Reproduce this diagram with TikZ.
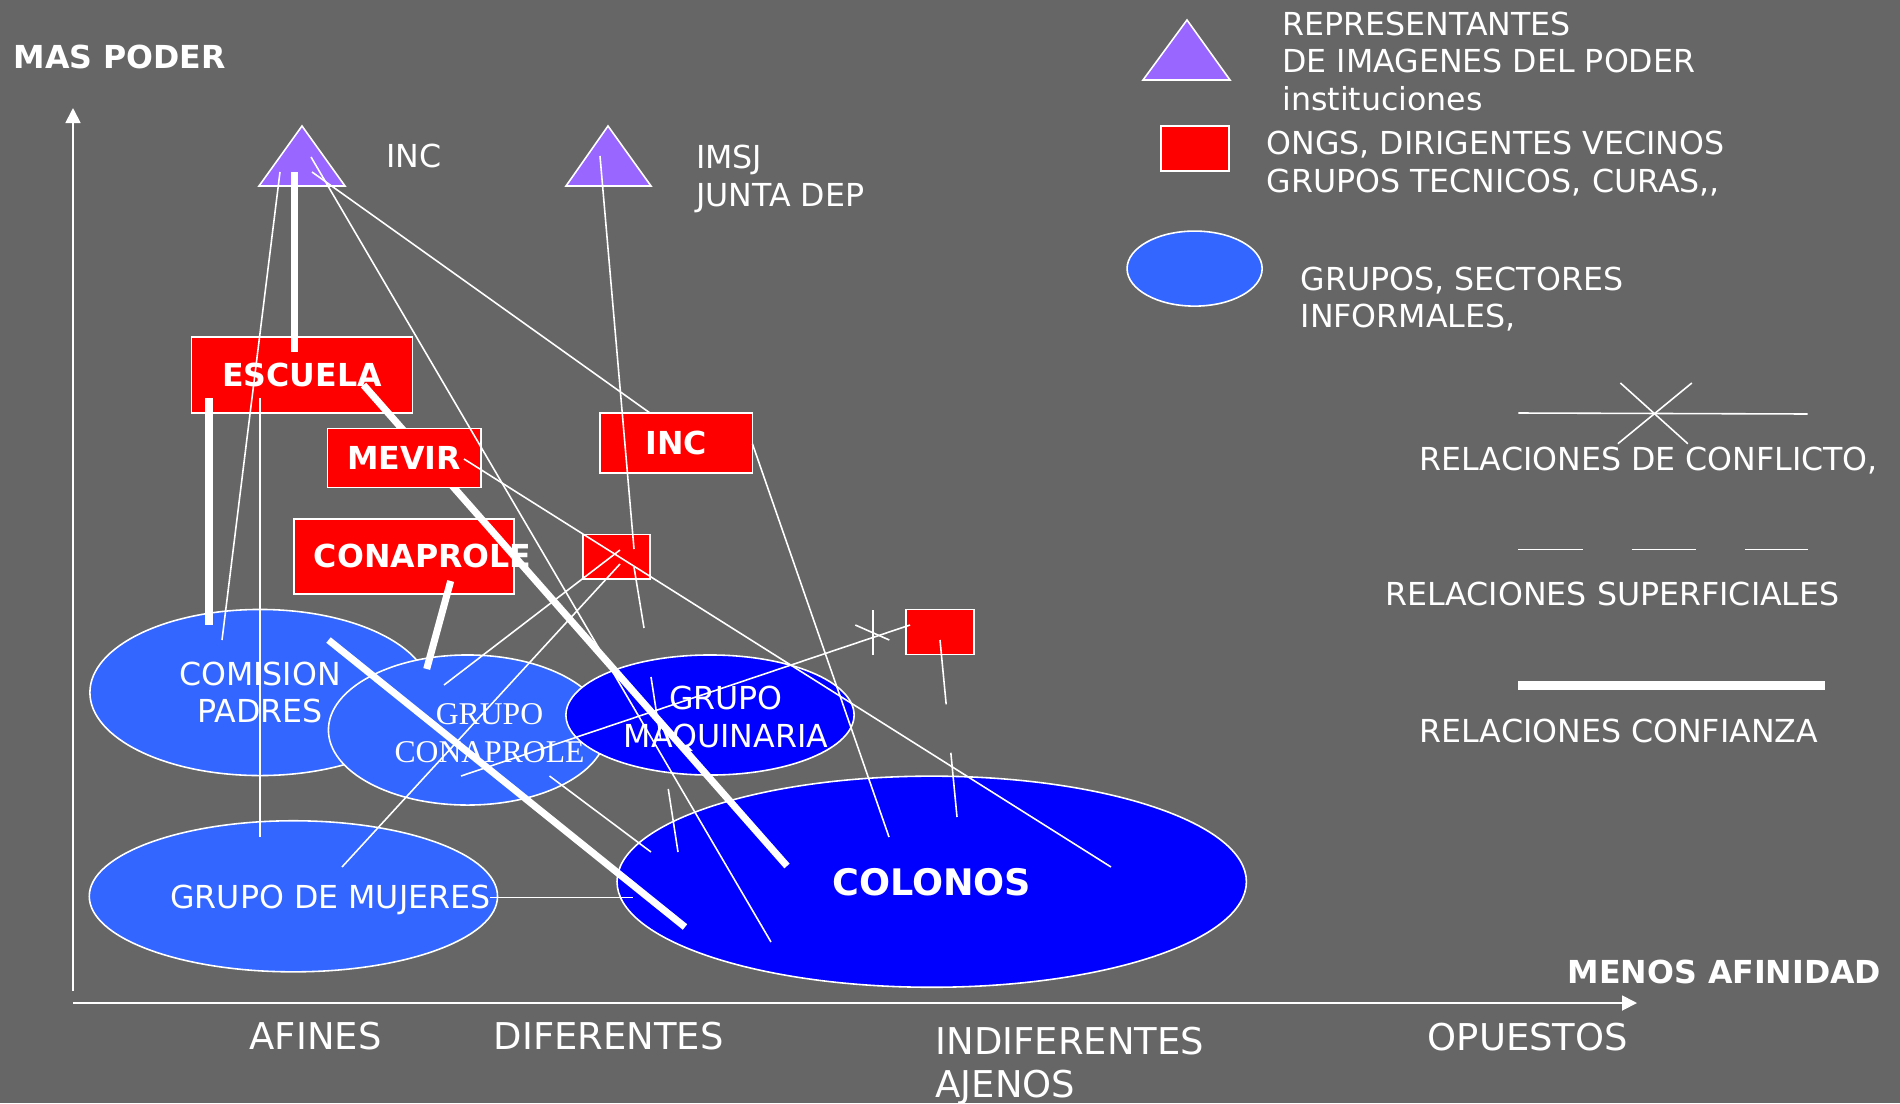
\documentclass[tikz,border=0pt]{standalone}
\usepackage{fontspec}
\setmainfont{DejaVu Sans}
\newfontfamily\grpserif{Liberation Serif}
\usetikzlibrary{shapes.geometric,arrows.meta}

\definecolor{bgGray}{HTML}{666666}
\definecolor{instViolet}{HTML}{9966FF}
\definecolor{grpBlue}{HTML}{3366FF}
\definecolor{colBlue}{HTML}{0000FF}

\begin{document}
\begin{tikzpicture}[x=0.01cm, y=-0.01cm,
   inst/.style={draw=white, fill=instViolet, line width=0.45pt},
   ong/.style={draw=white, fill=red, line width=0.45pt, inner sep=0pt, text=white,
               font=\fontsize{9}{10.7}\selectfont\bfseries},
   ongtxt/.style={text=white, inner sep=0pt, font=\fontsize{9}{10.7}\selectfont\bfseries},
   grp/.style={ellipse, draw=white, fill=grpBlue, line width=0.45pt, inner sep=0pt,
               text=white, align=center, font=\fontsize{9}{10.7}\selectfont},
   grptxt/.style={text=white, inner sep=0pt, align=center, font=\fontsize{9}{10.7}\selectfont},
   txt/.style={text=white, inner sep=0pt, align=left, font=\fontsize{9}{10.7}\selectfont},
   axtxt/.style={text=white, inner sep=0pt, align=left, font=\fontsize{10.5}{12.2}\selectfont},
   rel/.style={draw=white, line width=0.45pt},
   trust/.style={draw=white, line width=2pt},
   shallow/.style={rel, dash pattern=on 0.646cm off 0.486cm},
   axis/.style={draw=white, line width=0.5pt, -{Triangle[length=0.15cm,width=0.15cm]}}]

\fill[bgGray] (0,0) rectangle (1900,1103);
\useasboundingbox (0,0) rectangle (1900,1103);

% ejes
\coordinate (yBot) at (73,991);
\coordinate (yTop) at (73,108);
\coordinate (xLeft) at (73,1003);
\coordinate (xRight) at (1637,1003);
\draw[axis] (yBot) -- (yTop);
\draw[axis] (xLeft) -- (xRight);

\node[txt, font=\fontsize{9}{10.7}\selectfont\bfseries, anchor=west] (masPoder) at (13,57) {MAS PODER};
\node[txt, font=\fontsize{9}{10.7}\selectfont\bfseries, anchor=west] (menosAfin) at (1567,972) {MENOS AFINIDAD};
\node[axtxt, anchor=west] (afines) at (249,1036) {AFINES};
\node[axtxt, anchor=west] (diferentes) at (493,1036) {DIFERENTES};
\node[axtxt, anchor=north west] (indiferentes) at (935,1026.5) {INDIFERENTES\\AJENOS};
\node[axtxt, anchor=west] (opuestos) at (1427,1036.7) {OPUESTOS};

% grupos
\node[grp, minimum width=3.40cm, minimum height=1.66cm] (comision) at (260,692.5) {COMISION\\PADRES};
\node[grp, minimum width=2.78cm, minimum height=1.50cm,
      label={[grptxt, font=\grpserif\fontsize{9}{10.7}\selectfont, xshift=0.22cm, yshift=-0.03cm]center:{GRUPO\\CONAPROLE}}]
      (gconaprole) at (467.5,730) {};
\node[grp, fill=colBlue, minimum width=2.88cm, minimum height=1.20cm,
      label={[grptxt, xshift=0.16cm, yshift=-0.04cm]center:{GRUPO\\MAQUINARIA}}]
      (maquinaria) at (710,715) {};
\node[grp, minimum width=4.08cm, minimum height=1.51cm,
      label={[grptxt, xshift=0.37cm, yshift=-0.04cm]center:GRUPO DE MUJERES}]
      (mujeres) at (293.4,896.3) {};
\node[grp, fill=colBlue, minimum width=6.29cm, minimum height=2.11cm,
      font=\fontsize{10.4}{12}\selectfont\bfseries] (colonos) at (931.7,881.7) {COLONOS};

% instituciones
\filldraw[inst] (302,126) -- (345,186) -- (259,186) -- cycle;
\filldraw[inst] (608,126) -- (651,186) -- (566,186) -- cycle;
\node[txt, anchor=west] (incLbl) at (385.7,155.7) {INC};
\node[txt, anchor=north west] (imsjLbl) at (695.5,144.2) {IMSJ\\JUNTA DEP};

% ongs
\node[ong, minimum width=2.21cm, minimum height=0.76cm] (escuela) at (302,375) {ESCUELA};
\node[ong, minimum width=2.20cm, minimum height=0.75cm,
      label={[ongtxt, xshift=0.186cm]center:CONAPROLE}] (conaprole) at (404,556.4) {};
\node[ong, minimum width=1.525cm, minimum height=0.60cm] (incBox) at (676.2,443) {INC};
\node[ong, minimum width=0.67cm, minimum height=0.44cm] (boxA) at (616.7,556.7) {};
\node[ong, minimum width=0.68cm, minimum height=0.45cm] (boxB) at (940,632) {};

\coordinate (incT1) at (280,172);
\coordinate (incT2) at (311,157);
\coordinate (incT3) at (312,172);
\coordinate (incT4) at (294.5,172);
\coordinate (imsjT1) at (600,156);
\coordinate (esc1) at (294.5,352);
\coordinate (esc2) at (209,398);
\coordinate (esc3) at (260,398);
\coordinate (esc4) at (363.5,385);
\coordinate (mev1) at (464,459);
\coordinate (incB1) at (650,413);
\coordinate (incB2) at (752.5,444);
\coordinate (con1) at (450.7,581);
\coordinate (boxA1) at (634,549);
\coordinate (boxA2) at (634,567);
\coordinate (boxA3) at (620,550);
\coordinate (boxA4) at (620,564);
\coordinate (boxB1) at (910,625);
\coordinate (boxB2) at (940,640);
\coordinate (imsjEnd) at (644,628);
\coordinate (com1) at (222,640);
\coordinate (com2) at (209,625);
\coordinate (com3) at (328.5,640);
\coordinate (gcon1) at (426.7,669);
\coordinate (gcon2) at (444,685);
\coordinate (gcon3) at (461,776);
\coordinate (gcon4) at (549.5,776);
\coordinate (maq1) at (651,677);
\coordinate (muj1) at (260,837);
\coordinate (muj2) at (342,867);
\coordinate (muj3) at (490,897.3);
\coordinate (col1) at (771,942);
\coordinate (col2) at (787,866);
\coordinate (col3) at (685,927);
\coordinate (col4) at (1111,867);
\coordinate (col5) at (889,837);
\coordinate (col6) at (957,817);
\coordinate (col7) at (678,852);
\coordinate (col8) at (651,852);
\coordinate (col9) at (633.3,897.3);
\coordinate (cross1) at (872.7,610);
\coordinate (cross2) at (872.7,655);
\coordinate (cross3) at (855.3,625);
\coordinate (cross4) at (889.3,640);

\draw[trust] (esc4) -- (col2);
\node[ong, minimum width=1.53cm, minimum height=0.59cm] (mevir) at (404.2,457.9) {MEVIR};

% relaciones
\draw[trust] (incT4) -- (esc1);
\draw[trust] (esc2) -- (com2);
\draw[trust] (con1) -- (gcon1);
\draw[trust] (com3) -- (col3);
\draw[rel] (incT1) -- (com1);
\draw[rel] (incT2) -- (col1);
\draw[rel] (incT3) -- (incB1);
\draw[rel] (imsjT1) -- (boxA1);
\draw[rel] (boxA2) -- (imsjEnd);
\draw[rel] (esc3) -- (muj1);
\draw[rel] (mev1) -- (col4);
\draw[rel] (incB2) -- (col5);
\draw[rel] (boxA3) -- (gcon2);
\draw[rel] (boxA4) -- (muj2);
\draw[rel] (gcon3) -- (boxB1);
\draw[rel] (cross1) -- (cross2);
\draw[rel] (cross3) -- (cross4);
\draw[shallow] (boxB2) -- (col6);
\draw[shallow] (maq1) -- (col7);
\draw[rel] (gcon4) -- (col8);
\draw[rel] (muj3) -- (col9);

% leyenda
\filldraw[inst] (1187,20) -- (1230,80) -- (1143,80) -- cycle;
\node[txt, anchor=north west] (legInst) at (1281.6,10.9) {REPRESENTANTES\\DE IMAGENES DEL PODER\\instituciones};
\node[ong, minimum width=0.68cm, minimum height=0.45cm] (legOng) at (1195.2,148.3) {};
\node[txt, anchor=north west] (legOngTxt) at (1265.8,130.3) {ONGS, DIRIGENTES VECINOS\\GRUPOS TECNICOS, CURAS,{},};
\node[grp, minimum width=1.35cm, minimum height=0.75cm] (legGrp) at (1194.6,268.6) {};
\node[txt, anchor=north west] (legGrpTxt) at (1300,266.1) {GRUPOS, SECTORES\\INFORMALES,};

\coordinate (lc1) at (1518.4,413);
\coordinate (lc2) at (1807.6,414);
\coordinate (lc3) at (1620.4,383);
\coordinate (lc4) at (1687.8,443.7);
\coordinate (lc5) at (1691.8,383);
\coordinate (lc6) at (1617.9,443.7);
\draw[rel] (lc1) -- (lc2);
\draw[rel] (lc3) -- (lc4);
\draw[rel] (lc5) -- (lc6);
\node[txt, anchor=west] (legConfl) at (1418.9,460.5) {RELACIONES DE CONFLICTO,};

\coordinate (ls1) at (1518.4,549.7);
\coordinate (ls2) at (1807.6,549.7);
\draw[shallow] (ls1) -- (ls2);
\node[txt, anchor=west] (legShal) at (1384.7,594.4) {RELACIONES SUPERFICIALES};

\coordinate (lt1) at (1518.4,685.5);
\coordinate (lt2) at (1824.5,685.5);
\draw[trust, line width=2.3pt] (lt1) -- (lt2);
\node[txt, anchor=west] (legTrust) at (1418.9,731.2) {RELACIONES CONFIANZA};

\end{tikzpicture}
\end{document}
